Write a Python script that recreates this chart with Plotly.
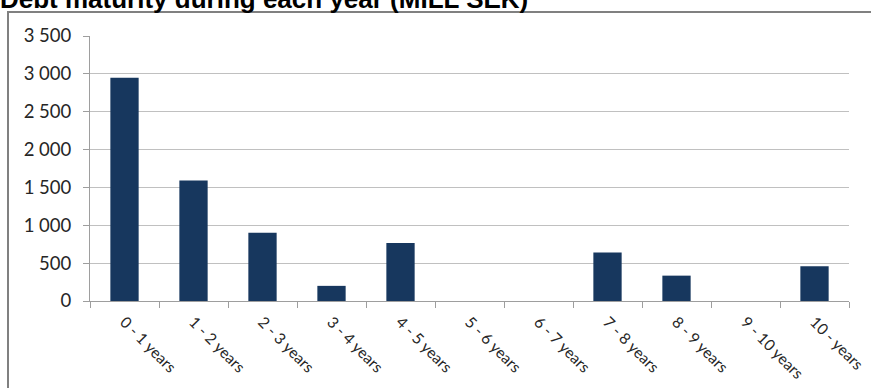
import plotly.graph_objects as go

# Debt maturity profile, million SEK per maturity bucket
categories = ["0 - 1 years", "1 - 2 years", "2 - 3 years", "3 - 4 years", "4 - 5 years",
              "5 - 6 years", "6 - 7 years", "7 - 8 years", "8 - 9 years", "9 - 10 years",
              "10 - years"]
amounts = [2950, 1590, 900, 200, 765, 0, 0, 640, 335, 0, 460]
y_ticks = [0, 500, 1000, 1500, 2000, 2500, 3000, 3500]

title_text = "Debt maturity during each year (MILL SEK)"

W, H = 871, 388
L, R, T, B = 90, 22, 36, 87

fig = go.Figure(
    go.Bar(
        x=categories,
        y=amounts,
        marker=dict(color="#17375E", line=dict(width=0)),
        width=0.41,
    )
)

axis_grey = "#9e9e9e"
label_family = "Lato, Open Sans, sans-serif"

fig.update_layout(
    width=W,
    height=H,
    margin=dict(l=L, r=R, t=T, b=B, pad=0, autoexpand=False),
    paper_bgcolor="white",
    plot_bgcolor="white",
    separators=", ",
    showlegend=False,
    title=dict(
        text="<b>" + title_text + "</b>",
        font=dict(family="Liberation Sans, Arial, sans-serif", size=26, color="black"),
        x=0.0,
        xanchor="left",
        xref="container",
        y=1 - 8 / H,
        yanchor="bottom",
        yref="container",
        pad=dict(t=0, b=0, l=0, r=0),
    ),
    xaxis=dict(
        type="category",
        automargin=False,
        tickson="boundaries",
        ticks="outside",
        ticklen=6,
        tickcolor=axis_grey,
        showline=True,
        linecolor=axis_grey,
        linewidth=1,
        showgrid=False,
        tickangle=45,
        tickfont=dict(family=label_family, size=15.5, color="#262626"),
        ticklabelstandoff=5,
    ),
    yaxis=dict(
        automargin=False,
        range=[0, 3500],
        tickvals=y_ticks,
        tickformat=",d",
        ticks="outside",
        ticklen=6,
        tickcolor=axis_grey,
        showline=True,
        linecolor=axis_grey,
        linewidth=1,
        showgrid=True,
        gridcolor="#c0c0c0",
        gridwidth=1,
        zeroline=False,
        tickfont=dict(family=label_family, size=18.5, color="#262626"),
        ticklabelstandoff=8,
    ),
)

# Chart frame running off the right and bottom edges
pw = W - L - R
ph = H - T - B
fig.add_shape(
    type="rect",
    xref="paper",
    yref="paper",
    x0=(8 - L) / pw,
    x1=(W + 20 - L) / pw,
    y0=-(H + 20 - T - ph) / ph,
    y1=(H - B - 12) / ph,
    line=dict(color="#808080", width=2),
    fillcolor="rgba(0,0,0,0)",
    layer="below",
)

fig.write_html("out.html")
